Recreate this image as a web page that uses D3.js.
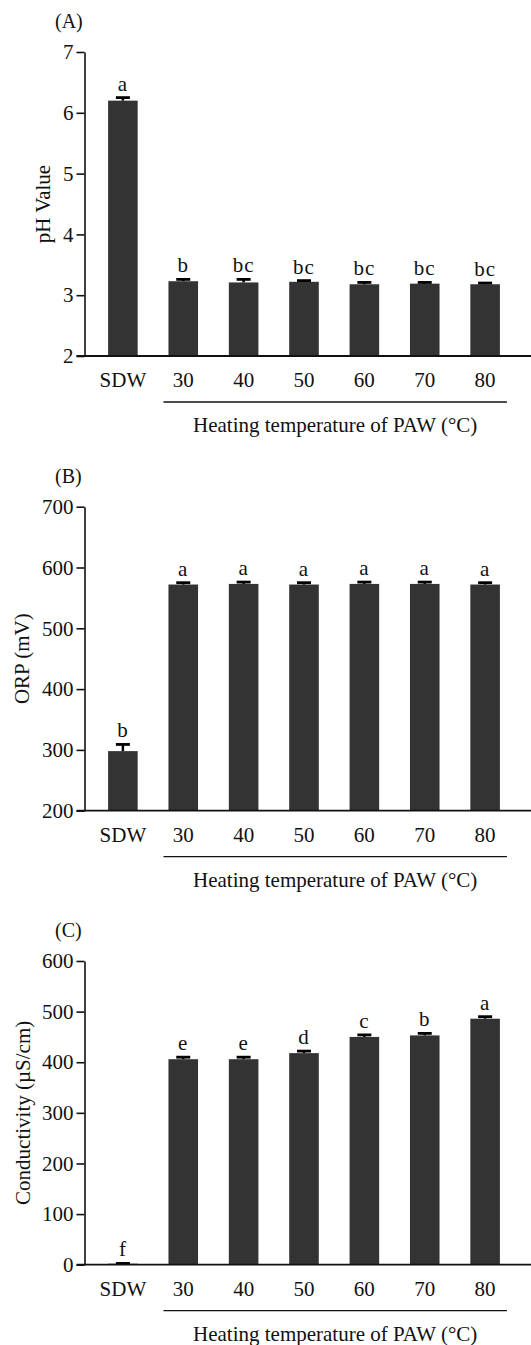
<!DOCTYPE html>
<html lang="en">
<head>
  <meta charset="UTF-8">
  <title>PAW properties</title>
  <script src="https://d3js.org/d3.v7.min.js"></script>
  <style>
    body { margin: 0; padding: 0; background: #fff; }
    svg { display: block; }
    text { font-family: "Liberation Serif", "Times New Roman", serif; fill: #111; }
    .tick line, .domain { stroke: #111; stroke-width: 1.6px; }
  </style>
</head>
<body>
  <div id="chart"></div>
  <script>
    const groups = ['SDW', '30', '40', '50', '60', '70', '80'];

    // (A) pH
    const phMean = [6.20, 3.23, 3.21, 3.22, 3.18, 3.19, 3.18];
    const phErr = [0.05, 0.03, 0.05, 0.02, 0.03, 0.02, 0.02];
    const phLetters = ['a', 'b', 'bc', 'bc', 'bc', 'bc', 'bc'];
    const phTicks = [2, 3, 4, 5, 6, 7];

    // (B) ORP
    const orpMean = [298, 572, 573, 572, 573, 573, 572];
    const orpErr = [11, 3, 3, 3, 3, 3, 3];
    const orpLetters = ['b', 'a', 'a', 'a', 'a', 'a', 'a'];
    const orpTicks = [200, 300, 400, 500, 600, 700];

    // (C) conductivity
    const condMean = [2, 406, 406, 418, 450, 453, 486];
    const condErr = [0.5, 4, 4, 4, 4, 4, 4];
    const condLetters = ['f', 'e', 'e', 'd', 'c', 'b', 'a'];
    const condTicks = [0, 100, 200, 300, 400, 500, 600];

    const width = 531, height = 1345;
    const svg = d3.select('#chart').append('svg')
      .attr('width', width).attr('height', height);

    const x = d3.scaleBand().domain(groups)
      .range([93, 515]).paddingInner(0.51).paddingOuter(0.25);

    function panel(cfg) {
      const y = d3.scaleLinear().domain(cfg.domain).range([cfg.bottom, cfg.top]);
      const g = svg.append('g');
      const x0 = 84.5;

      g.append('text').attr('x', 55).attr('y', cfg.top - 24)
        .style('font-size', '20px').text(cfg.tag);

      // bars
      g.selectAll('rect.bar').data(cfg.mean).join('rect')
        .attr('class', 'bar')
        .attr('x', (d, i) => x(groups[i]))
        .attr('width', x.bandwidth())
        .attr('y', d => y(d))
        .attr('height', d => y(cfg.domain[0]) - y(d))
        .attr('fill', '#333333');

      // upper error bars
      const eb = g.selectAll('g.err').data(cfg.mean).join('g').attr('class', 'err');
      eb.append('line')
        .attr('x1', (d, i) => x(groups[i]) + x.bandwidth() / 2)
        .attr('x2', (d, i) => x(groups[i]) + x.bandwidth() / 2)
        .attr('y1', d => y(d))
        .attr('y2', (d, i) => y(d + cfg.err[i]))
        .attr('stroke', '#000').attr('stroke-width', 2.5);
      eb.append('line')
        .attr('x1', (d, i) => x(groups[i]) + x.bandwidth() / 2 - 7)
        .attr('x2', (d, i) => x(groups[i]) + x.bandwidth() / 2 + 7)
        .attr('y1', (d, i) => y(d + cfg.err[i]))
        .attr('y2', (d, i) => y(d + cfg.err[i]))
        .attr('stroke', '#000').attr('stroke-width', 2.8);

      // significance letters
      g.selectAll('text.sig').data(cfg.letters).join('text')
        .attr('class', 'sig')
        .attr('x', (d, i) => x(groups[i]) + x.bandwidth() / 2)
        .attr('y', (d, i) => y(cfg.mean[i] + cfg.err[i]) - 7)
        .attr('text-anchor', 'middle')
        .style('font-size', '21px')
        .style('letter-spacing', '1px')
        .text(d => d);

      // y axis
      g.append('g').attr('transform', `translate(${x0},0)`)
        .call(d3.axisLeft(y).tickValues(cfg.ticks).tickFormat(d3.format('d'))
          .tickSize(8).tickSizeOuter(0).tickPadding(3))
        .call(a => a.selectAll('text').style('font-size', '21px').attr('fill', '#111'));

      // x axis line across the full width
      g.append('line').attr('x1', x0 - 8).attr('x2', width)
        .attr('y1', cfg.bottom).attr('y2', cfg.bottom)
        .attr('stroke', '#111').attr('stroke-width', 1.8);

      g.selectAll('text.xl').data(groups).join('text')
        .attr('class', 'xl')
        .attr('x', d => x(d) + x.bandwidth() / 2)
        .attr('y', cfg.bottom + 31)
        .attr('text-anchor', 'middle')
        .style('font-size', '21px')
        .text(d => d);

      // bracket under the PAW groups
      const bx1 = x('30') - 5, bx2 = x('80') + x.bandwidth() + 7;
      g.append('line').attr('x1', bx1).attr('x2', bx2)
        .attr('y1', cfg.bottom + 46).attr('y2', cfg.bottom + 46)
        .attr('stroke', '#111').attr('stroke-width', 1.3);
      g.append('text').attr('x', (bx1 + bx2) / 2).attr('y', cfg.bottom + 76)
        .attr('text-anchor', 'middle').style('font-size', '21px')
        .text('Heating temperature of PAW (°C)');

      g.append('text')
        .attr('transform', `translate(${cfg.ylabX},${(cfg.top + cfg.bottom) / 2}) rotate(-90)`)
        .attr('text-anchor', 'middle').style('font-size', '21px')
        .text(cfg.ylabel);
    }

    panel({ tag: '(A)', top: 52, bottom: 356, domain: [2, 7], ticks: phTicks,
      mean: phMean, err: phErr, letters: phLetters, ylabel: 'pH Value', ylabX: 50 });
    panel({ tag: '(B)', top: 506.7, bottom: 810.7, domain: [200, 700], ticks: orpTicks,
      mean: orpMean, err: orpErr, letters: orpLetters, ylabel: 'ORP (mV)', ylabX: 29 });
    panel({ tag: '(C)', top: 961, bottom: 1264.7, domain: [0, 600], ticks: condTicks,
      mean: condMean, err: condErr, letters: condLetters, ylabel: 'Conductivity (µS/cm)', ylabX: 30 });
  </script>
</body>
</html>
